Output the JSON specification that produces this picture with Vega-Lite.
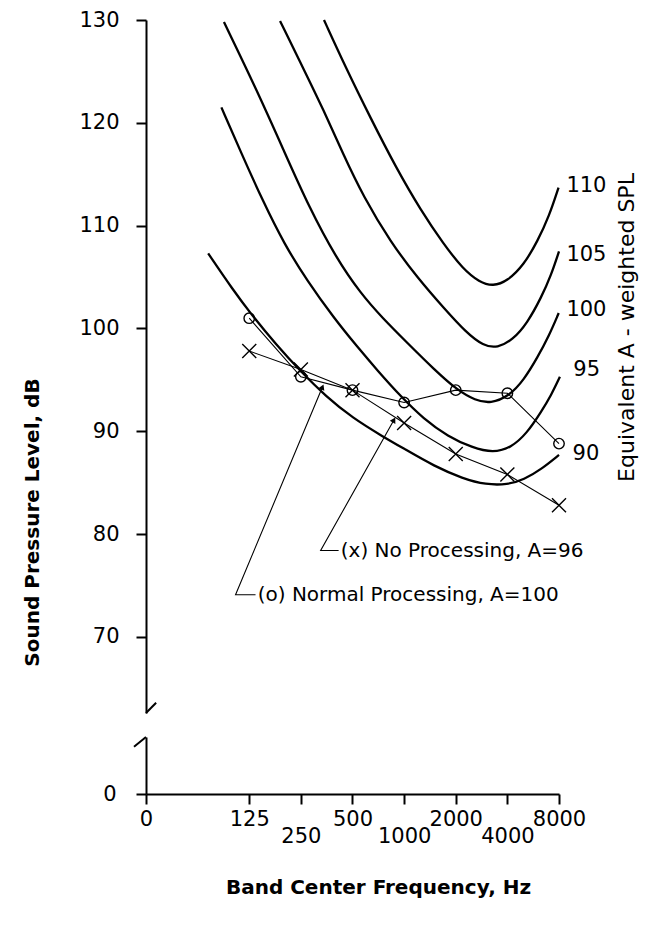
{
  "$schema": "https://vega.github.io/schema/vega-lite/v6.json",
  "background": "white",
  "padding": {"left": 22, "top": 9, "right": 5, "bottom": 5},
  "config": {
    "font": "DejaVu Sans",
    "view": {"stroke": null},
    "axis": {
      "grid": false,
      "domainColor": "black",
      "tickColor": "black",
      "labelColor": "black",
      "titleColor": "black",
      "domainWidth": 2,
      "tickWidth": 2,
      "tickSize": 10,
      "labelFontSize": 21,
      "labelFont": "DejaVu Sans",
      "titleFont": "DejaVu Sans"
    }
  },
  "datasets": {
    "contours": [
      {"curve": "90", "freq": 72, "spl": 107.3},
      {"curve": "90", "freq": 100, "spl": 103.8},
      {"curve": "90", "freq": 128, "spl": 101.4},
      {"curve": "90", "freq": 180, "spl": 98.4},
      {"curve": "90", "freq": 250, "spl": 95.8},
      {"curve": "90", "freq": 350, "spl": 93.4},
      {"curve": "90", "freq": 500, "spl": 91.3},
      {"curve": "90", "freq": 750, "spl": 89.5},
      {"curve": "90", "freq": 1000, "spl": 88.3},
      {"curve": "90", "freq": 1500, "spl": 86.6},
      {"curve": "90", "freq": 2200, "spl": 85.4},
      {"curve": "90", "freq": 3000, "spl": 84.8},
      {"curve": "90", "freq": 4000, "spl": 84.8},
      {"curve": "90", "freq": 5000, "spl": 85.3},
      {"curve": "90", "freq": 6300, "spl": 86.3},
      {"curve": "90", "freq": 8000, "spl": 87.7},

      {"curve": "95", "freq": 86, "spl": 121.5},
      {"curve": "95", "freq": 112, "spl": 117.1},
      {"curve": "95", "freq": 150, "spl": 112.4},
      {"curve": "95", "freq": 200, "spl": 108.2},
      {"curve": "95", "freq": 273, "spl": 104.6},
      {"curve": "95", "freq": 390, "spl": 101.0},
      {"curve": "95", "freq": 534, "spl": 98.2},
      {"curve": "95", "freq": 700, "spl": 95.9},
      {"curve": "95", "freq": 954, "spl": 93.4},
      {"curve": "95", "freq": 1300, "spl": 91.2},
      {"curve": "95", "freq": 1800, "spl": 89.5},
      {"curve": "95", "freq": 2500, "spl": 88.4},
      {"curve": "95", "freq": 3300, "spl": 87.9},
      {"curve": "95", "freq": 4200, "spl": 88.4},
      {"curve": "95", "freq": 5200, "spl": 89.8},
      {"curve": "95", "freq": 6300, "spl": 91.9},
      {"curve": "95", "freq": 7200, "spl": 93.5},
      {"curve": "95", "freq": 8100, "spl": 95.3},

      {"curve": "100", "freq": 89, "spl": 129.8},
      {"curve": "100", "freq": 140, "spl": 123.0},
      {"curve": "100", "freq": 200, "spl": 117.2},
      {"curve": "100", "freq": 279, "spl": 111.8},
      {"curve": "100", "freq": 400, "spl": 106.9},
      {"curve": "100", "freq": 558, "spl": 103.4},
      {"curve": "100", "freq": 750, "spl": 101.0},
      {"curve": "100", "freq": 1044, "spl": 98.6},
      {"curve": "100", "freq": 1500, "spl": 96.0},
      {"curve": "100", "freq": 2041, "spl": 94.0},
      {"curve": "100", "freq": 2600, "spl": 93.0},
      {"curve": "100", "freq": 3200, "spl": 92.7},
      {"curve": "100", "freq": 4075, "spl": 93.4},
      {"curve": "100", "freq": 5000, "spl": 95.0},
      {"curve": "100", "freq": 6000, "spl": 97.2},
      {"curve": "100", "freq": 7000, "spl": 99.3},
      {"curve": "100", "freq": 7970, "spl": 101.5},

      {"curve": "105", "freq": 189, "spl": 129.9},
      {"curve": "105", "freq": 260, "spl": 125.2},
      {"curve": "105", "freq": 340, "spl": 121.2},
      {"curve": "105", "freq": 440, "spl": 117.0},
      {"curve": "105", "freq": 580, "spl": 112.8},
      {"curve": "105", "freq": 834, "spl": 108.4},
      {"curve": "105", "freq": 1200, "spl": 104.9},
      {"curve": "105", "freq": 1700, "spl": 102.0},
      {"curve": "105", "freq": 2300, "spl": 99.6},
      {"curve": "105", "freq": 2900, "spl": 98.3},
      {"curve": "105", "freq": 3500, "spl": 98.1},
      {"curve": "105", "freq": 4300, "spl": 98.9},
      {"curve": "105", "freq": 5216, "spl": 100.5},
      {"curve": "105", "freq": 6300, "spl": 103.0},
      {"curve": "105", "freq": 7200, "spl": 105.2},
      {"curve": "105", "freq": 8000, "spl": 107.5},

      {"curve": "110", "freq": 341, "spl": 130.0},
      {"curve": "110", "freq": 456, "spl": 125.4},
      {"curve": "110", "freq": 640, "spl": 120.4},
      {"curve": "110", "freq": 900, "spl": 115.6},
      {"curve": "110", "freq": 1250, "spl": 111.5},
      {"curve": "110", "freq": 1700, "spl": 108.2},
      {"curve": "110", "freq": 2200, "spl": 105.8},
      {"curve": "110", "freq": 2750, "spl": 104.5},
      {"curve": "110", "freq": 3300, "spl": 104.1},
      {"curve": "110", "freq": 4000, "spl": 104.6},
      {"curve": "110", "freq": 5000, "spl": 106.2},
      {"curve": "110", "freq": 6000, "spl": 108.5},
      {"curve": "110", "freq": 7000, "spl": 110.9},
      {"curve": "110", "freq": 7950, "spl": 113.7}
    ],
    "normal": [
      {"freq": 125, "spl": 101.0},
      {"freq": 250, "spl": 95.3},
      {"freq": 500, "spl": 94.0},
      {"freq": 1000, "spl": 92.8},
      {"freq": 2000, "spl": 94.0},
      {"freq": 4000, "spl": 93.7},
      {"freq": 8000, "spl": 88.8}
    ],
    "noproc": [
      {"freq": 125, "spl": 97.8},
      {"freq": 250, "spl": 96.0},
      {"freq": 500, "spl": 94.0},
      {"freq": 1000, "spl": 90.8},
      {"freq": 2000, "spl": 87.8},
      {"freq": 4000, "spl": 85.8},
      {"freq": 8000, "spl": 82.8}
    ],
    "leaders": [
      {"leader": "x", "seq": 1, "freq": 415, "spl": 78.4},
      {"leader": "x", "seq": 2, "freq": 326, "spl": 78.4},
      {"leader": "x", "seq": 3, "freq": 872, "spl": 91.1},
      {"leader": "o", "seq": 1, "freq": 136, "spl": 74.1},
      {"leader": "o", "seq": 2, "freq": 104, "spl": 74.1},
      {"leader": "o", "seq": 3, "freq": 334, "spl": 94.3}
    ],
    "notes": [
      {"freq": 427, "spl": 78.4, "note": "(x) No Processing, A=96"},
      {"freq": 140, "spl": 74.1, "note": "(o) Normal Processing, A=100"}
    ],
    "contourLabels": [
      {"freq": 8835, "spl": 113.9, "label": "110"},
      {"freq": 8835, "spl": 107.1, "label": "105"},
      {"freq": 8835, "spl": 101.8, "label": "100"},
      {"freq": 9700, "spl": 96.0, "label": "95"},
      {"freq": 9600, "spl": 87.8, "label": "90"}
    ]
  },
  "vconcat": [
    {
      "width": 413,
      "height": 693,
      "encoding": {
        "x": {"field": "freq", "type": "quantitative", "scale": {"type": "log", "base": 2, "domain": [31.25, 8000], "nice": false}, "axis": null},
        "y": {"field": "spl", "type": "quantitative", "scale": {"domain": [62.6, 130], "nice": false, "zero": false}, "axis": null}
      },
      "layer": [
        {
          "data": {"name": "contours"},
          "mark": {"type": "line", "interpolate": "basis", "color": "black", "strokeWidth": 2.3},
          "encoding": {
            "y": {
              "field": "spl", "type": "quantitative",
              "axis": {
                "values": [70, 80, 90, 100, 110, 120, 130],
                "labelPadding": 17,
                "title": "Sound Pressure Level, dB",
                "titleFontSize": 20,
                "titleFontWeight": "bold",
                "titleX": -114,
                "titleY": 502,
                "titleAngle": 270,
                "titleAlign": "center",
                "titleBaseline": "middle"
              }
            },
            "detail": {"field": "curve"}
          }
        },
        {
          "data": {"name": "normal"},
          "mark": {"type": "line", "color": "black", "strokeWidth": 1.1}
        },
        {
          "data": {"name": "noproc"},
          "mark": {"type": "line", "color": "black", "strokeWidth": 1.1}
        },
        {
          "data": {"name": "normal"},
          "mark": {"type": "point", "shape": "circle", "filled": false, "color": "black", "size": 110, "strokeWidth": 1.4, "opacity": 1}
        },
        {
          "data": {"name": "noproc"},
          "mark": {"type": "point", "shape": "M-1,-1L1,1M1,-1L-1,1", "filled": false, "color": "black", "size": 196, "strokeWidth": 1.4, "opacity": 1}
        },
        {
          "data": {"name": "leaders"},
          "mark": {"type": "line", "color": "black", "strokeWidth": 1.1},
          "encoding": {
            "detail": {"field": "leader"},
            "order": {"field": "seq"}
          }
        },
        {
          "data": {"name": "leaders"},
          "transform": [{"filter": "datum.seq == 3 && datum.leader == 'x'"}],
          "mark": {"type": "point", "shape": "triangle-up", "filled": true, "color": "black", "size": 40, "angle": 29, "opacity": 1}
        },
        {
          "data": {"name": "leaders"},
          "transform": [{"filter": "datum.seq == 3 && datum.leader == 'o'"}],
          "mark": {"type": "point", "shape": "triangle-up", "filled": true, "color": "black", "size": 40, "angle": 23, "opacity": 1}
        },
        {
          "data": {"name": "notes"},
          "mark": {"type": "text", "align": "left", "baseline": "middle", "fontSize": 20, "color": "black"},
          "encoding": {"text": {"field": "note"}}
        },
        {
          "data": {"values": [{"freq": 31.25, "spl": 62.6, "freq2": 35.8, "spl2": 63.6}]},
          "mark": {"type": "rule", "color": "black", "strokeWidth": 2},
          "encoding": {
            "x2": {"field": "freq2"},
            "y2": {"field": "spl2"}
          }
        },
        {
          "data": {"name": "contourLabels"},
          "mark": {"type": "text", "align": "left", "baseline": "middle", "fontSize": 21, "color": "black"},
          "encoding": {
            "y": {
              "field": "spl", "type": "quantitative",
              "axis": {
                "orient": "right",
                "labels": false,
                "ticks": false,
                "domain": false,
                "title": "Equivalent A - weighted SPL",
                "titleFontSize": 22,
                "titleFontWeight": "normal",
                "titleAngle": 270,
                "titleX": 67,
                "titleY": 307,
                "titleAlign": "center",
                "titleBaseline": "middle"
              }
            },
            "text": {"field": "label"}
          }
        }
      ],
      "resolve": {"axis": {"y": "independent"}}
    },
    {
      "width": 413,
      "height": 57,
      "data": {"values": [{"freq": 26.6, "spl": 4.6, "freq2": 31.25, "spl2": 5.55}]},
      "mark": {"type": "rule", "color": "black", "strokeWidth": 2},
      "encoding": {
        "x": {
          "field": "freq", "type": "quantitative",
          "scale": {"type": "log", "base": 2, "domain": [31.25, 8000], "nice": false},
          "axis": {
            "values": [31.25, 125, 250, 500, 1000, 2000, 4000, 8000],
            "format": "d",
            "labelExpr": "datum.value < 40 ? '0' : ((datum.value == 250 || datum.value == 1000 || datum.value == 4000) ? ['', datum.label] : datum.label)",
            "labelFlush": false,
            "labelOverlap": false,
            "labelPadding": 4,
            "labelLineHeight": 17,
            "title": "Band Center Frequency, Hz",
            "titleFontSize": 20,
            "titleFontWeight": "bold",
            "titleX": 232,
            "titleY": 93,
            "titleAlign": "center",
            "titleBaseline": "middle"
          }
        },
        "y": {
          "field": "spl", "type": "quantitative",
          "scale": {"domain": [0, 5.55], "nice": false, "zero": false},
          "axis": {"values": [0], "labelPadding": 20, "title": null}
        },
        "x2": {"field": "freq2"},
        "y2": {"field": "spl2"}
      }
    }
  ],
  "spacing": 24,
  "bounds": "flush"
}
